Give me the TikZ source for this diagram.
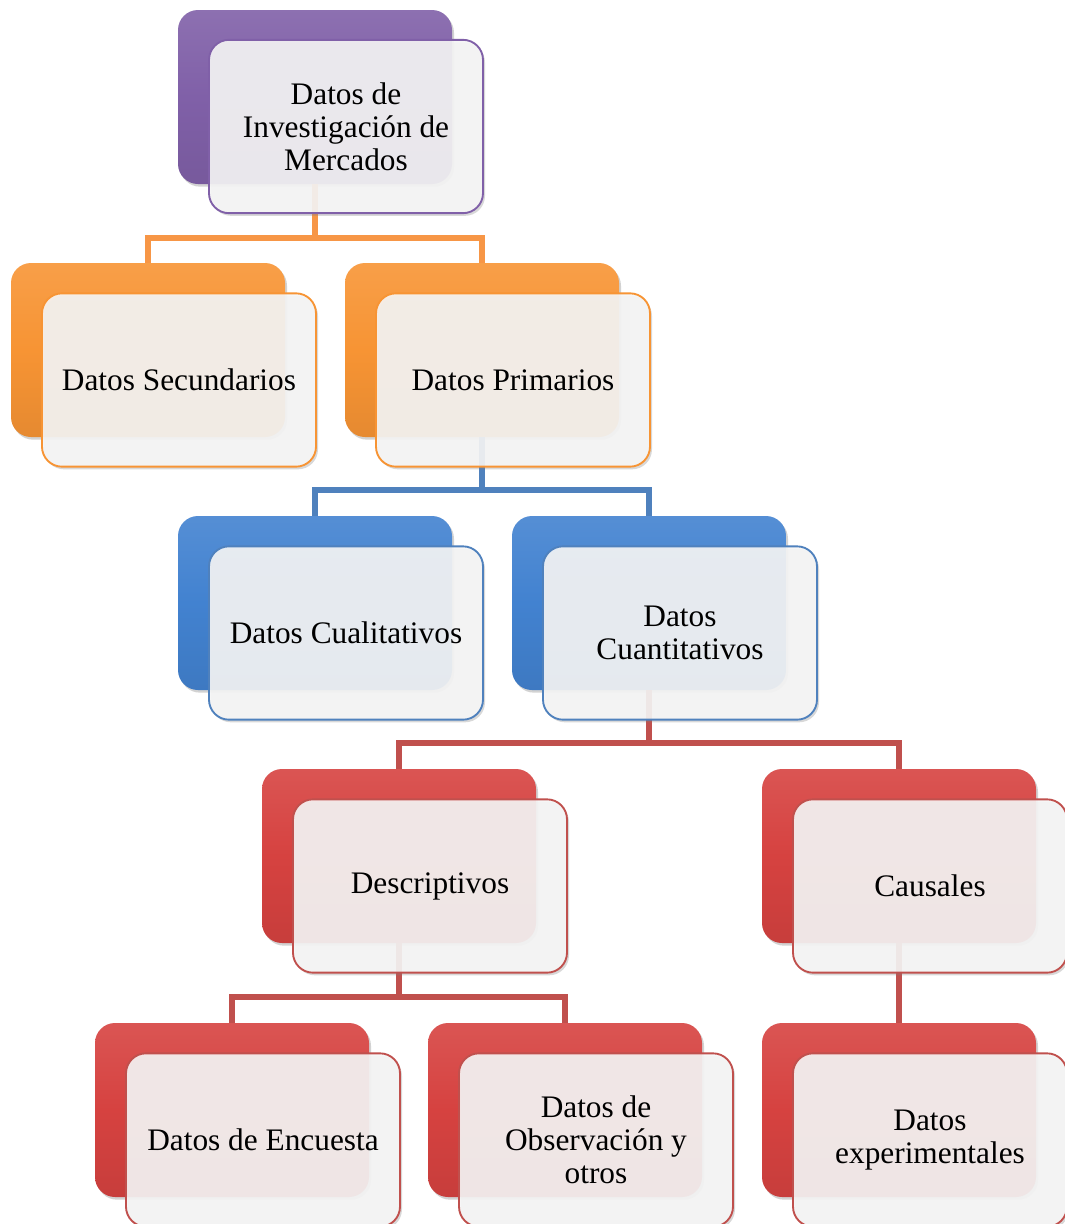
\documentclass[tikz,border=0pt]{standalone}
\usepackage{fontspec}
\setmainfont{Liberation Serif}
\usetikzlibrary{shadows,calc}
\definecolor{cPurple}{RGB}{128,96,168}
\definecolor{cOrange}{RGB}{247,148,52}
\definecolor{cBlue}{RGB}{66,130,208}
\definecolor{cRed}{RGB}{214,66,64}
\definecolor{lOrange}{RGB}{247,150,70}
\definecolor{lBlue}{RGB}{79,129,189}
\definecolor{lRed}{RGB}{192,80,77}
\definecolor{frontfill}{RGB}{246,246,246}
\tikzset{
  backbox/.style={rectangle, rounded corners=15pt, inner sep=0pt, outer sep=0pt,
    minimum width=205.5pt, minimum height=130.5pt,
    top color=#1!90!white, bottom color=#1!93!black, middle color=#1,
    drop shadow={opacity=0.35, shadow xshift=1.5pt, shadow yshift=-2pt}},
  frontbox/.style={rectangle, rounded corners=15pt, inner sep=0pt, outer sep=0pt,
    minimum width=205.5pt, minimum height=130pt, draw=#1, line width=1.4pt,
    fill=frontfill, fill opacity=0.9, text opacity=1, align=center,
    font=\fontsize{23.5}{24.8}\selectfont,
    drop shadow={opacity=0.3, shadow xshift=1.5pt, shadow yshift=-2pt}},
  conn/.style={line width=4.2pt, draw=#1}
}
\begin{document}
\begin{tikzpicture}[x=0.75pt,y=-0.75pt]
\useasboundingbox (0,0) rectangle (1064,1224);
\fill[white] (0,0) rectangle (1064,1224);
% back boxes
\node[backbox=cPurple] (b1) at (315,97) {};
\node[backbox=cOrange] (b2) at (148,350) {};
\node[backbox=cOrange] (b3) at (482,350) {};
\node[backbox=cBlue] (b4) at (315,603) {};
\node[backbox=cBlue] (b5) at (649,603) {};
\node[backbox=cRed] (b6) at (399,856) {};
\node[backbox=cRed] (b7) at (899,856) {};
\node[backbox=cRed] (b8) at (232,1110) {};
\node[backbox=cRed] (b9) at (565,1110) {};
\node[backbox=cRed] (b10) at (899,1110) {};
% connectors (behind fronts)
\draw[conn=lOrange] (b1.south) -- ++(0,54) coordinate (h1) -| (b2.north);
\draw[conn=lOrange] (h1) -| (b3.north);
\draw[conn=lBlue] (b3.south) -- ++(0,53) coordinate (h2) -| (b4.north);
\draw[conn=lBlue] (h2) -| (b5.north);
\draw[conn=lRed] (b5.south) -- ++(0,53) coordinate (h3) -| (b6.north);
\draw[conn=lRed] (h3) -| (b7.north);
\draw[conn=lRed] (b6.south) -- ++(0,54) coordinate (h4) -| (b8.north);
\draw[conn=lRed] (h4) -| (b9.north);
\draw[conn=lRed] (b7.south) -- (b10.north);
% front boxes
\node[frontbox=cPurple] (f1) at (346,126.5) {Datos de\\Investigación de\\Mercados};
\node[frontbox=cOrange] (f2) at (179,380) {Datos Secundarios};
\node[frontbox=cOrange] (f3) at (513,380) {Datos Primarios};
\node[frontbox=lBlue] (f4) at (346,633) {Datos Cualitativos};
\node[frontbox=lBlue] (f5) at (680,633) {Datos\\Cuantitativos};
\node[frontbox=lRed] (f6) at (430,886) {Descriptivos};
\node[frontbox=lRed] (f7) at (930,886) {Causales};
\node[frontbox=lRed] (f8) at (263,1140) {Datos de Encuesta};
\node[frontbox=lRed] (f9) at (596,1140) {Datos de\\Observación y\\otros};
\node[frontbox=lRed] (f10) at (930,1140) {Datos\\experimentales};
\end{tikzpicture}
\end{document}
